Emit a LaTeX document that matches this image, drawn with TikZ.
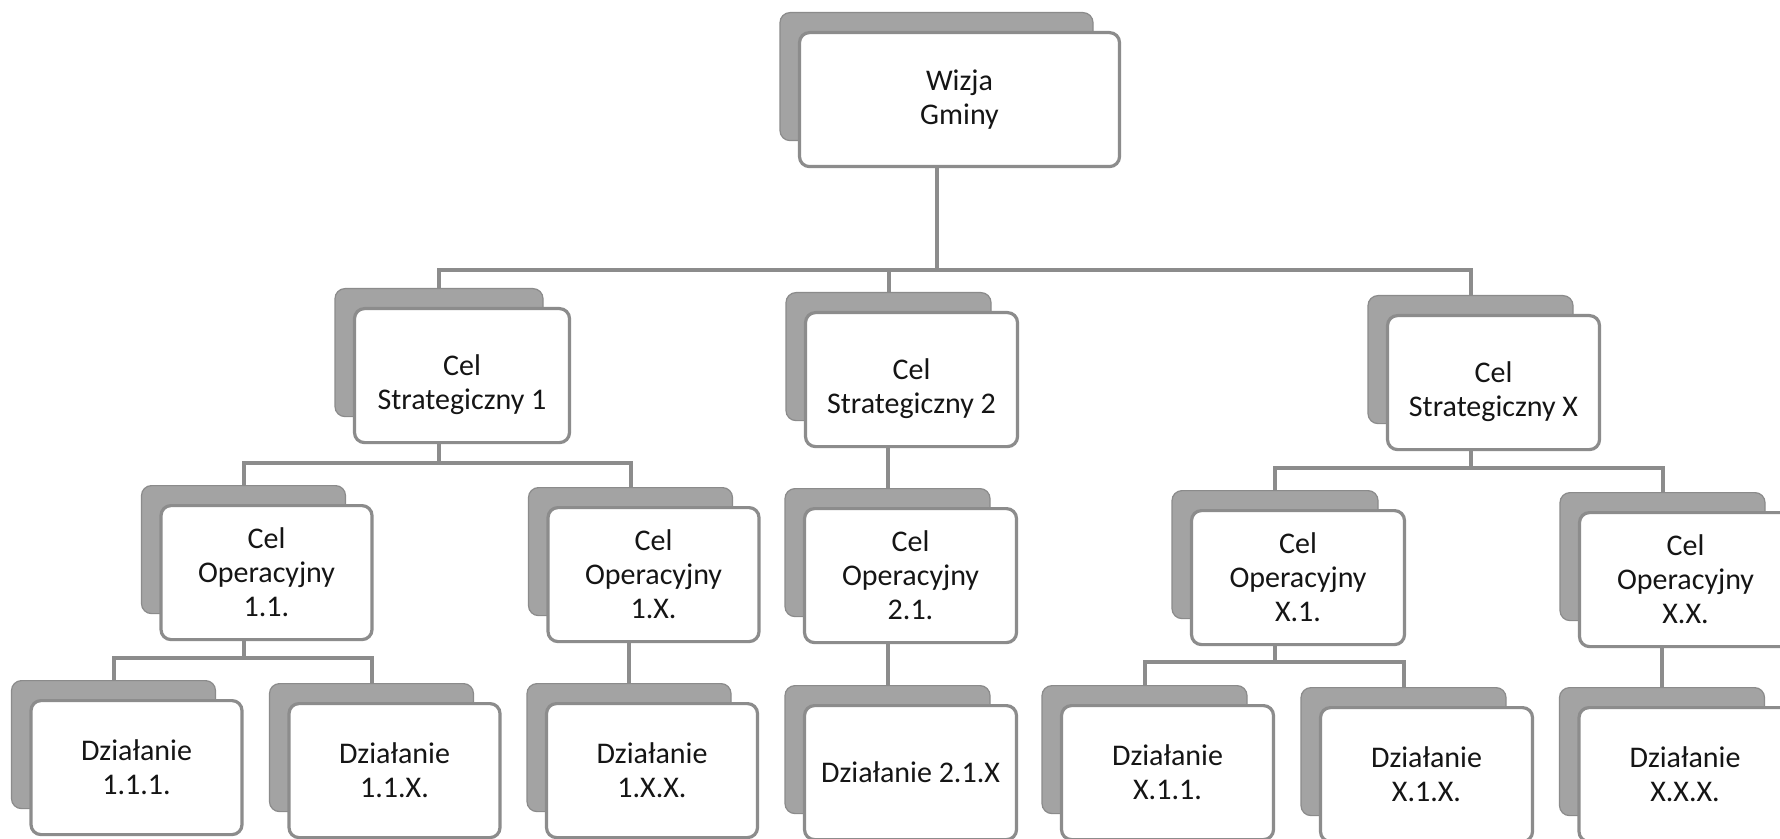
\documentclass[tikz,border=0pt]{standalone}
\usepackage{fontspec}
\setmainfont{Carlito}
\definecolor{shadowgray}{HTML}{A3A3A3}
\definecolor{linegray}{HTML}{8C8C8C}
\definecolor{txt}{HTML}{151515}
\newcommand{\orgbox}[5]{%
  \node[shadowbox, minimum width=#4*0.5pt, anchor=north] (#1s) at (#2,#3) {};
  \node[frontbox, minimum width=(#4+7)*0.5pt, anchor=north] (#1) at (#2+23,#3+19) {#5};
}
\newcommand{\lowstrut}{\rule{0pt}{19pt}}
\begin{document}
\begin{tikzpicture}[x=0.5pt,y=-0.5pt,
  shadowbox/.style={rectangle, rounded corners=5pt, fill=shadowgray, draw=shadowgray!85!black, line width=0.6pt, minimum height=64pt, inner sep=0pt},
  frontbox/.style={rectangle, rounded corners=5pt, fill=white, draw=linegray, line width=1.6pt, minimum height=67pt, inner sep=0pt, align=center, font=\fontsize{15}{17}\selectfont, text=txt},
  conn/.style={draw=linegray, line width=2pt}]
\useasboundingbox[fill=white] (0,0) rectangle (1780,839);
\clip (0,0) rectangle (1780,839);
% level 0
\orgbox{W}{936.5}{12}{313}{Wizja\\Gminy}
% level 1
\orgbox{S1}{439}{288}{208}{\lowstrut Cel\\Strategiczny 1}
\orgbox{S2}{888.5}{292}{205}{\lowstrut Cel\\Strategiczny 2}
\orgbox{SX}{1470.5}{295}{205}{\lowstrut Cel\\Strategiczny X}
% level 2
\orgbox{O11}{243.5}{485}{204}{Cel\\Operacyjny\\1.1.}
\orgbox{O1X}{630.5}{487}{204}{Cel\\Operacyjny\\1.X.}
\orgbox{O21}{887.5}{488}{205}{Cel\\Operacyjny\\2.1.}
\orgbox{OX1}{1275}{490}{206}{Cel\\Operacyjny\\X.1.}
\orgbox{OXX}{1662.5}{492}{205}{Cel\\Operacyjny\\X.X.}
% level 3
\orgbox{D111}{113.5}{680}{204}{Działanie\\1.1.1.}
\orgbox{D11X}{371.5}{683}{204}{Działanie\\1.1.X.}
\orgbox{D1XX}{629}{683}{204}{Działanie\\1.X.X.}
\orgbox{D21X}{887.5}{685}{205}{Działanie 2.1.X}
\orgbox{DX11}{1144.5}{685}{205}{Działanie\\X.1.1.}
\orgbox{DX1X}{1403.5}{687}{205}{Działanie\\X.1.X.}
\orgbox{DXXX}{1662}{687}{205}{Działanie\\X.X.X.}
% bar levels
\coordinate (b0) at (0,270);
\coordinate (b1) at (0,463);
\coordinate (b2) at (0,468);
\coordinate (b3) at (0,658);
\coordinate (b4) at (0,662);
% connectors
\draw[conn] (W.south -| Ws) -- (Ws |- b0);
\draw[conn] (S1s.north) |- (b0 -| SXs) -- (SXs.north);
\draw[conn] (S2s.north) -- (S2s |- b0);
\draw[conn] (S1.south -| S1s) -- (S1s |- b1);
\draw[conn] (O11s.north) |- (b1 -| O1Xs) -- (O1Xs.north);
\draw[conn] (S2.south -| O21s) -- (O21s.north);
\draw[conn] (SX.south -| SXs) -- (SXs |- b2);
\draw[conn] (OX1s.north) |- (b2 -| OXXs) -- (OXXs.north);
\draw[conn] (O11.south -| O11s) -- (O11s |- b3);
\draw[conn] (D111s.north) |- (b3 -| D11Xs) -- (D11Xs.north);
\draw[conn] (O1X.south -| D1XXs) -- (D1XXs.north);
\draw[conn] (O21.south -| D21Xs) -- (D21Xs.north);
\draw[conn] (OX1.south -| OX1s) -- (OX1s |- b4);
\draw[conn] (DX11s.north) |- (b4 -| DX1Xs) -- (DX1Xs.north);
\draw[conn] (OXX.south -| DXXXs) -- (DXXXs.north);
\end{tikzpicture}
\end{document}
